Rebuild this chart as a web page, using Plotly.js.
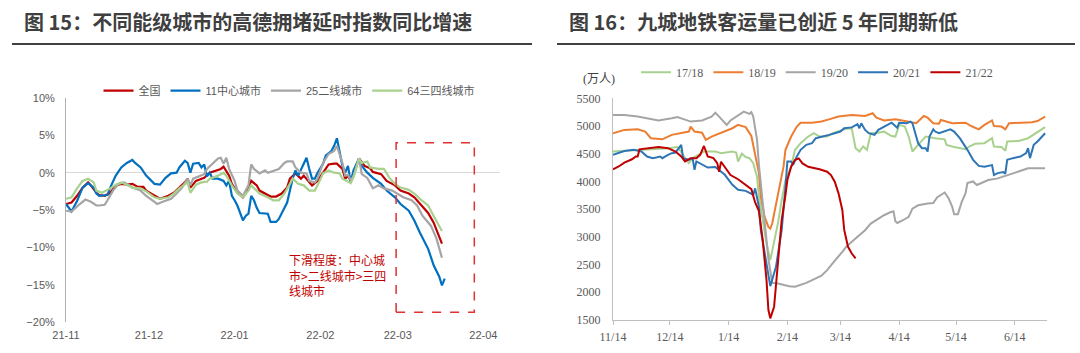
<!DOCTYPE html>
<html><head><meta charset="utf-8">
<script src="https://cdn.plot.ly/plotly-3.0.1.min.js"></script>
<style>html,body{margin:0;padding:0;background:#fff;} #chart{width:1080px;height:353px;}</style>
</head><body><div id="chart"></div>
<script>
// ---------- Figure 15: congestion index YoY growth (%) ----------
const leftNames = ['全国', '11中心城市', '25二线城市', '64三四线城市'];
const leftColors = ['#c00000', '#0070c0', '#a5a5a5', '#a9d18e'];
const leftTickVals = ['2021-11-01','2021-12-01','2022-01-01','2022-02-01','2022-03-01','2022-04-01'];
const leftTickText = ['21-11','21-12','22-01','22-02','22-03','22-04'];

const natDates = ['2021-11-01','2021-11-03','2021-11-05','2021-11-07','2021-11-09','2021-11-10','2021-11-12','2021-11-13','2021-11-15','2021-11-17','2021-11-19','2021-11-21','2021-11-23','2021-11-25','2021-11-27','2021-11-29','2021-11-30',
 '2021-12-03','2021-12-05','2021-12-08','2021-12-10','2021-12-12','2021-12-14','2021-12-15','2021-12-16','2021-12-18','2021-12-20','2021-12-21','2021-12-23','2021-12-25','2021-12-27','2021-12-28','2021-12-29','2021-12-30','2021-12-31',
 '2022-01-02','2022-01-04','2022-01-05','2022-01-07','2022-01-09','2022-01-10','2022-01-12','2022-01-14','2022-01-16','2022-01-18','2022-01-20','2022-01-21','2022-01-23','2022-01-25','2022-01-26','2022-01-28','2022-01-29','2022-01-31',
 '2022-02-02','2022-02-04','2022-02-06','2022-02-07','2022-02-09','2022-02-10','2022-02-11','2022-02-12','2022-02-13','2022-02-15','2022-02-17','2022-02-19','2022-02-20','2022-02-23','2022-02-25','2022-02-28',
 '2022-03-02','2022-03-05','2022-03-07','2022-03-09','2022-03-12','2022-03-14','2022-03-17'];
const natVals = [-4.2,-4.0,-3.1,-2.0,-1.3,-1.7,-2.7,-3.0,-3.1,-2.7,-1.7,-1.5,-1.6,-1.5,-1.9,-1.9,-2.4,
 -3.1,-3.5,-3.1,-2.7,-2.0,-1.3,-0.8,-2.0,-1.1,-0.8,-0.7,0.0,0.3,0.5,0.8,0.1,-0.4,-1.5,
 -2.7,-3.3,-2.8,-1.1,-1.7,-2.4,-2.8,-3.2,-3.2,-2.8,-2.0,-0.8,-0.1,-0.8,-0.4,-1.3,-1.7,-1.1,
 0.0,1.1,1.2,1.2,0.5,-0.8,-0.4,-1.1,-0.3,1.9,0.9,0.6,0.1,-0.2,-1.1,-1.7,
 -2.4,-2.8,-3.3,-4.2,-5.4,-6.7,-9.5];

const tier1Dates = ['2021-11-01','2021-11-03','2021-11-05','2021-11-07','2021-11-09','2021-11-11','2021-11-12','2021-11-13','2021-11-16','2021-11-17','2021-11-19','2021-11-21','2021-11-23','2021-11-25','2021-11-26','2021-11-28','2021-11-30',
 '2021-12-03','2021-12-05','2021-12-07','2021-12-09','2021-12-11','2021-12-12','2021-12-14','2021-12-15','2021-12-16','2021-12-17','2021-12-19','2021-12-20','2021-12-21','2021-12-22','2021-12-23','2021-12-24','2021-12-26','2021-12-28','2021-12-29','2021-12-30','2021-12-31',
 '2022-01-01','2022-01-02','2022-01-04','2022-01-05','2022-01-06','2022-01-07','2022-01-08','2022-01-09','2022-01-10','2022-01-12','2022-01-13','2022-01-14','2022-01-16','2022-01-17','2022-01-18','2022-01-20','2022-01-21','2022-01-22','2022-01-23','2022-01-24','2022-01-26','2022-01-27','2022-01-28','2022-01-29','2022-01-30','2022-01-31',
 '2022-02-02','2022-02-03','2022-02-05','2022-02-06','2022-02-07','2022-02-08','2022-02-09','2022-02-10','2022-02-11','2022-02-12','2022-02-13','2022-02-15','2022-02-16','2022-02-18','2022-02-20','2022-02-23','2022-02-25','2022-02-28',
 '2022-03-02','2022-03-05','2022-03-07','2022-03-09','2022-03-12','2022-03-14','2022-03-16','2022-03-17','2022-03-18'];
const tier1Vals = [-4.2,-5.2,-3.8,-2.0,-1.4,-2.0,-2.8,-3.1,-3.0,-2.0,-0.4,0.7,1.3,1.7,1.3,0.7,-0.4,
 -1.5,-1.6,-0.7,-0.1,0.0,0.7,1.6,1.3,0.0,1.2,1.3,0.7,1.1,-0.5,0.0,-0.8,-0.8,-1.1,-1.7,-1.1,-3.1,
 -3.7,-4.4,-6.4,-5.8,-5.5,-3.1,-3.7,-4.7,-5.4,-5.5,-5.5,-6.6,-6.6,-6.2,-5.4,-4.0,-2.4,-0.8,0.3,-0.4,1.2,2.0,0.5,-0.8,-0.8,0.0,
 1.2,2.3,2.9,3.6,4.6,2.9,0.9,0.0,0.9,-1.3,0.3,1.9,0.9,0.0,-0.7,-1.5,-2.4,-3.3,
 -4.2,-5.1,-6.4,-8.0,-10.2,-12.4,-13.9,-15.1,-14.2];

const tier2Dates = ['2021-11-01','2021-11-03','2021-11-06','2021-11-08','2021-11-10','2021-11-12','2021-11-13','2021-11-15','2021-11-16','2021-11-18','2021-11-20','2021-11-22','2021-11-24','2021-11-25','2021-11-28','2021-11-30',
 '2021-12-03','2021-12-04','2021-12-06','2021-12-09','2021-12-11','2021-12-13','2021-12-15','2021-12-16','2021-12-17','2021-12-19','2021-12-21','2021-12-22','2021-12-24','2021-12-26','2021-12-27','2021-12-28','2021-12-29','2021-12-30',
 '2022-01-01','2022-01-02','2022-01-04','2022-01-06','2022-01-07','2022-01-08','2022-01-10','2022-01-12','2022-01-13','2022-01-15','2022-01-17','2022-01-19','2022-01-20','2022-01-22','2022-01-23','2022-01-25','2022-01-27','2022-01-28','2022-01-30','2022-01-31',
 '2022-02-02','2022-02-04','2022-02-06','2022-02-07','2022-02-09','2022-02-10','2022-02-11','2022-02-12','2022-02-13','2022-02-15','2022-02-16','2022-02-18','2022-02-20','2022-02-22','2022-02-24','2022-02-27',
 '2022-03-01','2022-03-03','2022-03-06','2022-03-08','2022-03-10','2022-03-13','2022-03-15','2022-03-17'];
const tier2Vals = [-5.1,-5.2,-4.2,-3.6,-3.9,-4.4,-4.4,-4.3,-3.7,-2.4,-1.5,-1.3,-1.7,-2.0,-2.4,-3.1,
 -3.9,-4.2,-3.9,-3.5,-2.8,-2.0,-0.8,-1.7,-0.8,-0.5,-0.2,0.5,1.2,1.9,2.0,1.2,2.0,0.5,
 -1.1,-2.4,-3.1,-1.7,1.1,0.5,-0.1,0.3,0.0,0.3,0.5,1.3,1.5,1.5,0.7,0.0,-0.1,-1.1,-1.3,-0.8,
 1.3,2.5,2.9,3.6,1.3,-0.4,-0.3,-1.0,-0.5,1.9,-0.2,-0.7,-2.1,-1.7,-2.1,-2.4,
 -2.8,-3.3,-3.7,-4.4,-5.8,-7.1,-8.8,-11.4];

const tier34Dates = ['2021-11-01','2021-11-03','2021-11-05','2021-11-07','2021-11-09','2021-11-11','2021-11-12','2021-11-14','2021-11-17','2021-11-19','2021-11-21','2021-11-23','2021-11-25','2021-11-28','2021-11-30',
 '2021-12-03','2021-12-05','2021-12-08','2021-12-10','2021-12-12','2021-12-14','2021-12-15','2021-12-16','2021-12-18','2021-12-20','2021-12-22','2021-12-23','2021-12-26','2021-12-28','2021-12-29','2021-12-31',
 '2022-01-02','2022-01-04','2022-01-06','2022-01-07','2022-01-09','2022-01-10','2022-01-13','2022-01-15','2022-01-17','2022-01-19','2022-01-21','2022-01-22','2022-01-24','2022-01-26','2022-01-28','2022-01-30','2022-01-31',
 '2022-02-02','2022-02-04','2022-02-06','2022-02-08','2022-02-09','2022-02-11','2022-02-12','2022-02-13','2022-02-15','2022-02-16','2022-02-18','2022-02-19','2022-02-22','2022-02-24','2022-02-26','2022-02-28',
 '2022-03-02','2022-03-05','2022-03-07','2022-03-09','2022-03-12','2022-03-14','2022-03-17'];
const tier34Vals = [-3.5,-3.3,-2.1,-1.1,-0.8,-1.3,-2.4,-2.7,-2.1,-1.6,-1.3,-1.7,-2.0,-2.1,-2.5,
 -3.3,-3.5,-3.3,-2.8,-2.1,-1.5,-1.3,-2.7,-1.6,-1.3,-1.2,-0.8,-0.4,0.0,-0.4,-1.7,
 -2.8,-3.3,-2.4,-1.7,-2.4,-2.8,-3.3,-3.7,-3.7,-2.8,-1.5,-0.8,-1.5,-1.7,-2.4,-2.4,-1.7,
 -0.1,0.3,0.0,-0.1,-0.8,-1.2,-1.4,-0.6,1.9,1.3,1.5,0.7,0.5,0.5,-0.7,-1.5,
 -2.0,-2.3,-2.8,-3.5,-4.4,-5.8,-7.8];

// highlighted window (dashed box) and note
const boxStart = '2022-02-28 10:00', boxEnd = '2022-03-28 17:00', boxLow = -18.7, boxHigh = 4.0;
const noteText = '下滑程度：中心城<br>市>二线城市>三四<br>线城市';

// ---------- Figure 16: metro ridership of nine cities (10k persons) ----------
const rightNames = ['17/18', '18/19', '19/20', '20/21', '21/22'];
const rightColors = ['#a9d18e', '#ed7d31', '#a5a5a5', '#2e75b6', '#c00000'];
const rightTickVals = ['2021-11-14','2021-12-14','2022-01-14','2022-02-14','2022-03-14','2022-04-14','2022-05-14','2022-06-14'];
const rightTickText = ['11/14','12/14','1/14','2/14','3/14','4/14','5/14','6/14'];

const s1718Dates = ['2021-11-14','2021-11-20','2021-11-27','2021-12-06','2021-12-13','2021-12-18','2021-12-19','2021-12-22','2021-12-24','2021-12-26','2021-12-29',
 '2022-01-01','2022-01-07','2022-01-10','2022-01-16','2022-01-18','2022-01-19','2022-01-21','2022-01-23','2022-01-25','2022-01-27','2022-01-29','2022-01-30',
 '2022-02-01','2022-02-03','2022-02-05','2022-02-07','2022-02-09','2022-02-11','2022-02-13','2022-02-16','2022-02-18','2022-02-21','2022-02-25','2022-02-28',
 '2022-03-03','2022-03-07','2022-03-10','2022-03-15','2022-03-18','2022-03-20','2022-03-22','2022-03-24','2022-03-26','2022-03-28','2022-03-30',
 '2022-04-03','2022-04-06','2022-04-10','2022-04-12','2022-04-14','2022-04-17','2022-04-19','2022-04-21','2022-04-24','2022-04-28',
 '2022-05-03','2022-05-08','2022-05-09','2022-05-13','2022-05-19','2022-05-21','2022-05-24','2022-05-29',
 '2022-06-02','2022-06-03','2022-06-07','2022-06-09','2022-06-10','2022-06-16','2022-06-21','2022-06-25','2022-06-30'];
const s1718Vals = [4540,4550,4570,4580,4600,4620,4580,4420,4330,4420,4480,
 4540,4540,4510,4540,4520,4360,4500,4440,4420,4330,4085,3720,
 3300,2880,2580,2880,3240,3660,4025,4265,4567,4690,4810,4870,
 4810,4810,4870,4930,4960,4950,4600,4540,4630,4570,4870,
 4880,4900,4820,4810,5020,4990,4810,4540,4660,4810,
 4780,4760,4660,4620,4580,4630,4680,4690,
 4780,4630,4620,4555,4720,4730,4780,4870,4980];

const s1819Dates = ['2021-11-14','2021-11-20','2021-11-27','2021-12-01','2021-12-04','2021-12-10','2021-12-15','2021-12-20','2021-12-24','2021-12-25','2021-12-27','2021-12-31',
 '2022-01-02','2022-01-05','2022-01-10','2022-01-16','2022-01-19','2022-01-23','2022-01-26','2022-01-28','2022-01-30','2022-01-31',
 '2022-02-02','2022-02-04','2022-02-05','2022-02-06','2022-02-08','2022-02-10','2022-02-12','2022-02-13','2022-02-16','2022-02-19','2022-02-21','2022-02-27',
 '2022-03-04','2022-03-08','2022-03-13','2022-03-20','2022-03-27','2022-03-31',
 '2022-04-02','2022-04-06','2022-04-12','2022-04-17','2022-04-23','2022-04-27','2022-04-29',
 '2022-05-02','2022-05-05','2022-05-06','2022-05-12','2022-05-19','2022-05-22','2022-05-26','2022-05-29',
 '2022-06-02','2022-06-03','2022-06-07','2022-06-09','2022-06-11','2022-06-16','2022-06-23','2022-06-26','2022-06-30'];
const s1819Vals = [4870,4930,4940,4900,4780,4760,4840,4880,4900,4990,4900,4880,
 4750,4810,4880,4960,5020,4980,4820,4510,4150,3720,
 3360,3180,3150,3240,3600,3970,4270,4570,4810,4990,5060,5060,
 5080,5120,5170,5200,5180,5230,
 5150,5100,5120,5090,5050,5180,5150,
 5050,5040,5110,5050,5060,5000,4940,5020,
 5100,5000,4990,4940,5050,5060,5070,5090,5170];

const s1920Dates = ['2021-11-14','2021-11-20','2021-11-27','2021-12-08','2021-12-15','2021-12-18','2021-12-25','2021-12-31',
 '2022-01-05','2022-01-07','2022-01-09','2022-01-13','2022-01-15','2022-01-19','2022-01-22','2022-01-25','2022-01-26','2022-01-27','2022-01-29','2022-01-30','2022-01-31',
 '2022-02-01','2022-02-02','2022-02-03','2022-02-04','2022-02-05','2022-02-06','2022-02-09','2022-02-15','2022-02-18','2022-02-24',
 '2022-03-01','2022-03-04','2022-03-07','2022-03-09','2022-03-12','2022-03-15','2022-03-17','2022-03-20','2022-03-23','2022-03-27','2022-03-30',
 '2022-04-03','2022-04-06','2022-04-09','2022-04-11','2022-04-12','2022-04-13','2022-04-16','2022-04-19','2022-04-21','2022-04-24','2022-04-29',
 '2022-05-02','2022-05-04','2022-05-08','2022-05-10','2022-05-12','2022-05-13','2022-05-15','2022-05-17','2022-05-19','2022-05-20','2022-05-23','2022-05-25','2022-05-28','2022-05-31',
 '2022-06-05','2022-06-10','2022-06-16','2022-06-21','2022-06-30'];
const s1920Vals = [5200,5200,5170,5100,5140,5160,5080,5100,
 5170,5240,5170,5020,5100,5200,5260,5220,5250,5170,4750,4300,3950,
 3500,3200,2940,2600,2350,2170,2160,2110,2100,2170,
 2250,2300,2400,2490,2610,2730,2820,2910,3000,3120,3240,
 3330,3390,3440,3460,3280,3250,3300,3360,3510,3570,3600,
 3610,3710,3800,3700,3540,3410,3410,3630,3785,3970,4000,3935,3975,4025,
 4055,4115,4175,4236,4240];

const s2021Dates = ['2021-11-14','2021-11-17','2021-11-20','2021-11-25','2021-11-29','2021-12-02','2021-12-05','2021-12-09','2021-12-10','2021-12-13','2021-12-15','2021-12-17','2021-12-20','2021-12-21','2021-12-24','2021-12-26','2021-12-27','2021-12-28','2021-12-31',
 '2022-01-03','2022-01-07','2022-01-09','2022-01-12','2022-01-16','2022-01-19','2022-01-23','2022-01-26','2022-01-27','2022-01-28','2022-01-30','2022-01-31',
 '2022-02-03','2022-02-05','2022-02-08','2022-02-11','2022-02-13','2022-02-14','2022-02-16','2022-02-17','2022-02-19','2022-02-21','2022-02-24','2022-02-27',
 '2022-03-01','2022-03-05','2022-03-08','2022-03-11','2022-03-14','2022-03-16','2022-03-20','2022-03-23','2022-03-24','2022-03-25','2022-03-27','2022-03-29',
 '2022-04-01','2022-04-03','2022-04-06','2022-04-10','2022-04-13','2022-04-14','2022-04-18','2022-04-20','2022-04-21','2022-04-24','2022-04-26','2022-04-28','2022-04-29','2022-04-30',
 '2022-05-02','2022-05-03','2022-05-05','2022-05-08','2022-05-11','2022-05-13','2022-05-16','2022-05-20','2022-05-23','2022-05-26','2022-05-29',
 '2022-06-02','2022-06-03','2022-06-05','2022-06-08','2022-06-09','2022-06-10','2022-06-13','2022-06-17','2022-06-20','2022-06-21','2022-06-22','2022-06-24','2022-06-26','2022-06-30'];
const s2021Vals = [4480,4510,4550,4570,4540,4450,4420,4450,4420,4480,4510,4520,4660,4420,4390,4420,4210,4360,4300,
 4250,4260,4210,4120,3940,3850,3830,3770,3760,3875,3540,3120,
 2520,2110,2460,3120,3900,4360,4360,4300,4450,4570,4660,4690,
 4780,4810,4840,4870,4900,4960,4975,5035,4960,5050,4930,4870,
 4840,4930,4990,5060,4970,5060,5050,5080,5050,4690,4600,4600,4540,4810,
 4940,4900,4870,4900,4940,4900,4780,4570,4390,4280,4265,
 4295,4115,4150,4170,4140,4390,4420,4450,4510,4600,4420,4660,4720,4870];

const s2122Dates = ['2021-11-14','2021-11-17','2021-11-20','2021-11-24','2021-11-26','2021-11-27','2021-11-28','2021-12-02','2021-12-08','2021-12-13','2021-12-17','2021-12-20','2021-12-22','2021-12-25','2021-12-28','2021-12-30',
 '2022-01-01','2022-01-03','2022-01-06','2022-01-08','2022-01-09','2022-01-10','2022-01-13','2022-01-15','2022-01-19','2022-01-22','2022-01-26','2022-01-28','2022-01-30',
 '2022-02-01','2022-02-03','2022-02-04','2022-02-05','2022-02-07','2022-02-09','2022-02-11','2022-02-13','2022-02-14','2022-02-16','2022-02-18','2022-02-20','2022-02-22','2022-02-25','2022-02-27',
 '2022-03-03','2022-03-07','2022-03-09','2022-03-11','2022-03-13','2022-03-15','2022-03-16','2022-03-18','2022-03-20','2022-03-22'];
const s2122Vals = [4220,4270,4340,4400,4450,4450,4580,4600,4620,4600,4540,4450,4360,4420,4420,4480,
 4640,4450,4420,4330,4175,4355,4205,4115,4040,3965,3860,3620,3465,
 2940,2220,1680,1530,1740,2520,3300,3755,4025,4265,4385,4415,4325,4265,4250,
 4220,4175,4115,3995,3785,3485,3125,2820,2700,2610];

// ---------- build traces ----------
const leftSeries = [[natDates, natVals], [tier1Dates, tier1Vals], [tier2Dates, tier2Vals], [tier34Dates, tier34Vals]];
const rightSeries = [[s1718Dates, s1718Vals], [s1819Dates, s1819Vals], [s1920Dates, s1920Vals], [s2021Dates, s2021Vals], [s2122Dates, s2122Vals]];

const traces = [];
leftSeries.forEach(function (s, i) {
  traces.push({type: 'scatter', mode: 'lines', x: s[0], y: s[1], name: leftNames[i],
    line: {color: leftColors[i], width: 2.2}, xaxis: 'x', yaxis: 'y', legend: 'legend'});
});
rightSeries.forEach(function (s, i) {
  traces.push({type: 'scatter', mode: 'lines', x: s[0], y: s[1], name: rightNames[i],
    line: {color: rightColors[i], width: 2}, xaxis: 'x2', yaxis: 'y2', legend: 'legend2'});
});

const W = 1080, H = 353;
const px = v => v / W;
const py = v => 1 - v / H;

const sansFont = 'Liberation Sans, Arial, Noto Sans CJK SC, sans-serif';
const serifFont = 'Liberation Serif, Times New Roman, Noto Sans CJK SC, serif';
const titleFont = {family: 'Noto Sans CJK SC, sans-serif', size: 20, color: '#3f3f3f', weight: 'bold'};

const layout = {
  width: W, height: H,
  margin: {l: 0, r: 0, t: 0, b: 0},
  paper_bgcolor: '#ffffff', plot_bgcolor: '#ffffff',
  showlegend: true,
  xaxis: {
    domain: [px(66), px(500)], anchor: 'y', type: 'date',
    range: ['2021-11-01', '2022-04-07'],
    tickvals: leftTickVals, ticktext: leftTickText,
    showgrid: false, zeroline: false, showline: false, ticks: '',
    ticklabelstandoff: 5,
    tickfont: {family: sansFont, size: 11, color: '#595959'}
  },
  yaxis: {
    domain: [py(322), py(98)], anchor: 'x',
    range: [-20, 10], dtick: 5, ticksuffix: '%',
    showgrid: false, zeroline: true, zerolinecolor: '#d9d9d9', zerolinewidth: 1,
    showline: true, linecolor: '#b0b0b0', linewidth: 1, ticks: '',
    ticklabelstandoff: 8,
    tickfont: {family: sansFont, size: 11, color: '#595959'}
  },
  xaxis2: {
    domain: [px(613), px(1047)], anchor: 'y2', type: 'date',
    range: ['2021-11-14', '2022-07-01'],
    tickvals: rightTickVals, ticktext: rightTickText,
    showgrid: false, zeroline: false, showline: true, linecolor: '#bfbfbf', linewidth: 1,
    ticks: 'outside', ticklen: 4, tickcolor: '#bfbfbf',
    ticklabelstandoff: 2,
    tickfont: {family: serifFont, size: 12, color: '#595959'}
  },
  yaxis2: {
    domain: [py(320), py(98.3)], anchor: 'x2',
    range: [1500, 5500], dtick: 500,
    showgrid: false, zeroline: false, showline: true, linecolor: '#bfbfbf', linewidth: 1, ticks: '',
    ticklabelstandoff: 9,
    tickfont: {family: serifFont, size: 12, color: '#595959'}
  },
  legend: {
    orientation: 'h', x: px(289), y: py(90.7), xanchor: 'center', yanchor: 'middle',
    font: {family: sansFont, size: 11, color: '#595959'}, bgcolor: 'rgba(0,0,0,0)',
    itemwidth: 30
  },
  legend2: {
    orientation: 'h', x: px(817), y: py(72.3), xanchor: 'center', yanchor: 'middle',
    font: {family: serifFont, size: 12, color: '#595959'}, bgcolor: 'rgba(0,0,0,0)',
    itemwidth: 30
  },
  annotations: [
    {xref: 'paper', yref: 'paper', x: px(22), y: py(22), xanchor: 'left', yanchor: 'middle', showarrow: false,
     text: '图 15：不同能级城市的高德拥堵延时指数同比增速', font: titleFont},
    {xref: 'paper', yref: 'paper', x: px(567), y: py(22), xanchor: 'left', yanchor: 'middle', showarrow: false,
     text: '图 16：九城地铁客运量已创近 5 年同期新低', font: titleFont},
    {xref: 'paper', yref: 'paper', x: px(599), y: py(79), xanchor: 'center', yanchor: 'middle', showarrow: false,
     text: '(万人)', font: {family: serifFont, size: 12, color: '#404040'}},
    {xref: 'paper', yref: 'paper', x: px(287), y: py(249), xanchor: 'left', yanchor: 'top', showarrow: false,
     align: 'left', text: noteText, font: {family: 'Noto Sans CJK SC, sans-serif', size: 12, color: '#c00000'}}
  ],
  shapes: [
    {type: 'line', xref: 'paper', yref: 'paper', x0: px(12), x1: px(532), y0: py(44), y1: py(44),
     line: {color: '#404040', width: 2}},
    {type: 'line', xref: 'paper', yref: 'paper', x0: px(557), x1: px(1075), y0: py(44), y1: py(44),
     line: {color: '#404040', width: 2}},
    {type: 'rect', xref: 'x', yref: 'y', x0: boxStart, x1: boxEnd, y0: boxLow, y1: boxHigh,
     line: {color: '#e03030', width: 1.5, dash: 'dash'}, fillcolor: 'rgba(0,0,0,0)'}
  ]
};

Plotly.newPlot('chart', traces, layout, {displayModeBar: false, staticPlot: true});
</script></body></html>
